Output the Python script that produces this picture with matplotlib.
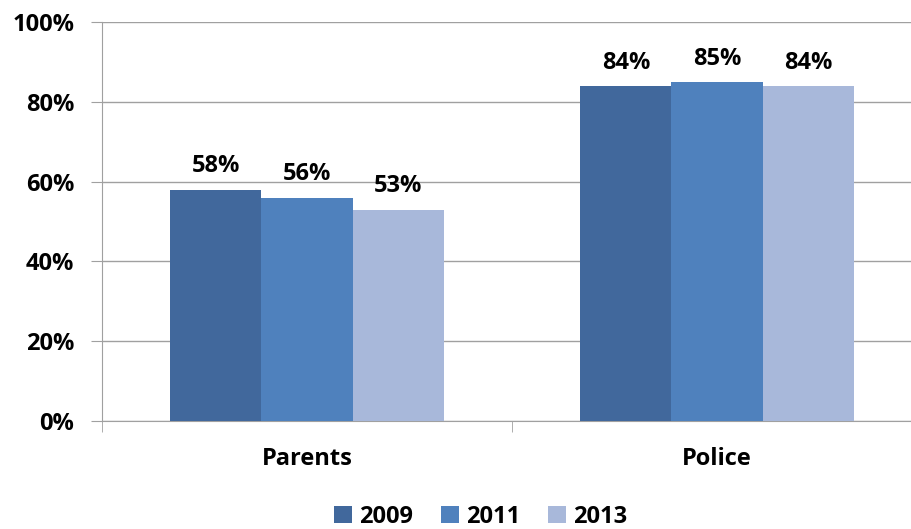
import matplotlib.pyplot as plt
import numpy as np

categories = ['Parents', 'Police']
years = ['2009', '2011', '2013']
values = {
    '2009': [58, 84],
    '2011': [56, 85],
    '2013': [53, 84],
}
colors = ['#41689C', '#4F81BD', '#A8B8DA']

plt.rcParams['font.family'] = ['Open Sans', 'DejaVu Sans']
plt.rcParams['font.weight'] = 'bold'

fig = plt.figure(figsize=(9.12, 5.29), dpi=100)
ax = fig.add_axes([102/912, 108/529, 820/912, 399/529])

x = np.arange(len(categories))
w = 0.222
for i, yr in enumerate(years):
    pos = x + (i - 1) * w
    bars = ax.bar(pos, values[yr], w, color=colors[i], label=yr, zorder=3)
    for b, v in zip(bars, values[yr]):
        ax.annotate(f'{v}%', (b.get_x() + b.get_width() / 2, v),
                    xytext=(0, 8), textcoords='offset points',
                    ha='center', va='bottom', fontsize=17, fontweight='bold')

ax.set_xlim(-0.5, 1.5)
ax.set_ylim(0, 100)
ax.set_yticks(range(0, 101, 20))
ax.set_yticklabels([f'{t}%' for t in range(0, 101, 20)], fontsize=17, fontweight='bold')
ax.set_xticks(x)
ax.set_xticklabels(categories, fontsize=17, fontweight='bold')
ax.set_xticks([-0.5, 0.5, 1.5], minor=True)
ax.tick_params(axis='x', which='major', length=0, pad=19)
ax.tick_params(axis='x', which='minor', length=8, color='#A0A0A0')
ax.tick_params(axis='y', length=8, color='#A0A0A0', pad=12)

ax.grid(axis='y', color='#A0A0A0', linewidth=1, zorder=0)
for s in ['top', 'right']:
    ax.spines[s].set_visible(False)
for s in ['left', 'bottom']:
    ax.spines[s].set_color('#A0A0A0')

fig.legend(loc='lower center', ncol=3, frameon=False, fontsize=17,
           handlelength=0.75, handleheight=0.75, handletextpad=0.3,
           columnspacing=1.2, bbox_to_anchor=(0.527, -0.04))

plt.savefig('out.png')
